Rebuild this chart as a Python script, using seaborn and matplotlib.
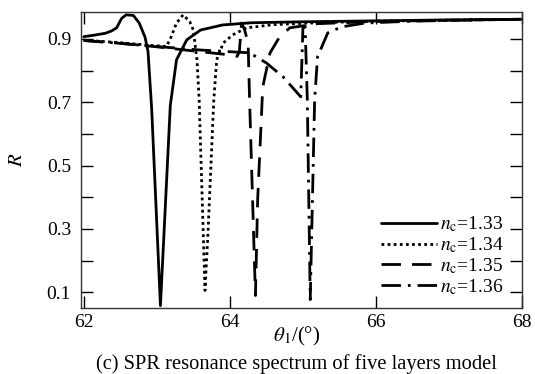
import matplotlib
matplotlib.use('Agg')
import matplotlib.pyplot as plt
import numpy as np
import pandas as pd
import seaborn as sns

# values
x_133 = [62.0, 62.15, 62.3, 62.38, 62.45, 62.52, 62.58, 62.68, 62.76, 62.84, 62.88, 62.93,
         63.05, 63.185, 63.27, 63.41, 63.6, 63.9, 64.3, 65.0, 66.0, 67.0, 68.0]
r_133 = [0.907, 0.912, 0.918, 0.925, 0.935, 0.965, 0.976, 0.974, 0.95, 0.905, 0.86, 0.68,
         0.058, 0.69, 0.834, 0.897, 0.928, 0.944, 0.951, 0.954, 0.957, 0.96, 0.962]

x_134 = [62.0, 62.5, 62.9, 63.13, 63.18, 63.27, 63.36, 63.45, 63.5, 63.55, 63.58, 63.66,
         63.70, 63.74, 63.78, 63.82, 63.91, 64.04, 64.23, 64.6, 65.2, 66.0, 67.0, 68.0]
r_134 = [0.896, 0.888, 0.880, 0.876, 0.897, 0.95, 0.976, 0.955, 0.928, 0.834, 0.707, 0.106,
         0.284, 0.495, 0.707, 0.834, 0.887, 0.913, 0.935, 0.945, 0.951, 0.956, 0.959, 0.962]

x_135 = [62.0, 62.5, 63.0, 63.5, 63.9, 64.1, 64.13, 64.16, 64.2, 64.25, 64.27, 64.35,
         64.38, 64.45, 64.55, 64.68, 64.82, 65.2, 66.0, 67.0, 68.0]
r_135 = [0.895, 0.886, 0.875, 0.862, 0.852, 0.845, 0.86, 0.95, 0.93, 0.887, 0.707, 0.09,
         0.39, 0.748, 0.856, 0.906, 0.935, 0.948, 0.955, 0.959, 0.962]

x_136 = [62.0, 62.5, 63.0, 63.59, 64.27, 64.5, 64.73, 64.97, 65.0, 65.03, 65.06, 65.1,
         65.16, 65.2, 65.34, 65.53, 65.85, 66.5, 67.2, 68.0]
r_136 = [0.895, 0.886, 0.876, 0.865, 0.856, 0.824, 0.78, 0.717, 0.935, 0.94, 0.707, 0.077,
         0.707, 0.844, 0.919, 0.938, 0.95, 0.956, 0.959, 0.962]

labels = [r'$n_{\rm c}$=1.33', r'$n_{\rm c}$=1.34', r'$n_{\rm c}$=1.35', r'$n_{\rm c}$=1.36']
y_ticks = [0.1, 0.3, 0.5, 0.7, 0.9]
x_ticks = [62, 64, 66, 68]

sns.set_style('ticks')
plt.rcParams['font.family'] = ['Liberation Serif', 'DejaVu Serif']
plt.rcParams['mathtext.fontset'] = 'stix'
plt.rcParams['text.color'] = 'black'
plt.rcParams['axes.labelcolor'] = 'black'
plt.rcParams['xtick.color'] = 'black'
plt.rcParams['ytick.color'] = 'black'

fig, ax = plt.subplots(figsize=(5.35, 3.74), dpi=100)
fig.subplots_adjust(left=0.151, right=0.976, top=0.968, bottom=0.176)

styles = ['-', (0, (1, 1.2)), (0, (7, 4)), (0, (7, 2.5, 1, 2.5))]
series = [(x_133, r_133), (x_134, r_134), (x_135, r_135), (x_136, r_136)]
for (xs, rs), lab, ls in zip(series, labels, styles):
    df = pd.DataFrame({'theta': xs, 'R': rs})
    sns.lineplot(data=df, x='theta', y='R', ax=ax, color='black', lw=2.0,
                 linestyle=ls, label=lab, sort=False, estimator=None)

ax.set_xlim(61.96, 68.0)
ax.set_ylim(0.05, 0.985)
ax.set_xticks(x_ticks)
ax.set_yticks(y_ticks)
ax.set_yticks(np.arange(0.2, 0.9, 0.2), minor=True)
ax.tick_params(which='both', direction='in', top=True, right=True, length=8.5,
               width=1.0, labelsize=14)
ax.tick_params(axis='y', pad=7)
ax.tick_params(axis='x', pad=4)
for sp in ax.spines.values():
    sp.set_linewidth(1.0)
    sp.set_color('#333333')

ax.set_xlabel(r'$\theta_1$/(°)', fontsize=15, va='center')
ax.xaxis.set_label_coords(0.49, -0.095)
ax.set_ylabel(r'$R$', fontsize=15, labelpad=14)

ax.legend(loc='lower right', frameon=False, fontsize=14, handlelength=2.9,
          handletextpad=0.15, labelspacing=0.05, borderaxespad=0.2,
          bbox_to_anchor=(0.985, 0.0))

fig.text(0.555, 0.026, '(c) SPR resonance spectrum of five layers model',
         ha='center', va='center', fontsize=14.8)

plt.savefig('out.png', dpi=100)
